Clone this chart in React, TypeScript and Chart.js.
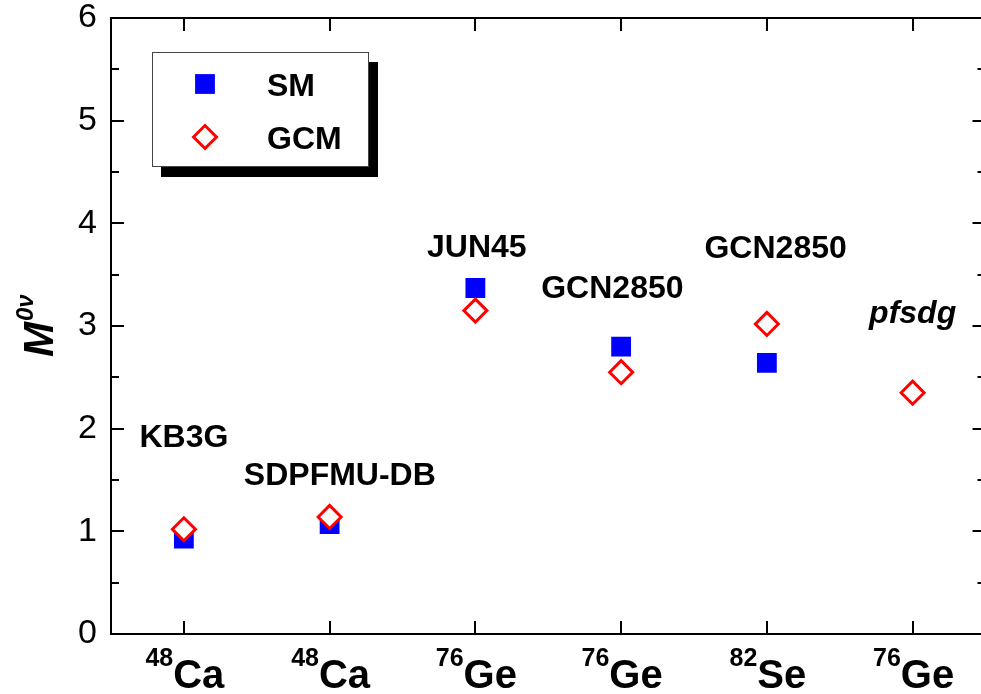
import React, { useEffect, useRef } from 'react';
import { Chart, registerables } from 'chart.js';
import { drawPoint } from 'chart.js/helpers';

Chart.register(...registerables);

// ---- data ----
const isotopeMass = ['48', '48', '76', '76', '82', '76'];
const isotopeSymbol = ['Ca', 'Ca', 'Ge', 'Ge', 'Se', 'Ge'];
const categories = isotopeMass.map((m, i) => m + isotopeSymbol[i]);
const smValues: (number | null)[] = [0.93, 1.07, 3.37, 2.8, 2.64, null];
const gcmValues: (number | null)[] = [1.02, 1.14, 3.15, 2.55, 3.02, 2.35];
const seriesNames = ['SM', 'GCM'];
const yTickValues = [0, 1, 2, 3, 4, 5, 6];

// interaction labels (anchored in data coordinates: category index, y value)
const interactionNames = ['KB3G', 'SDPFMU-DB', 'JUN45', 'GCN2850', 'GCN2850', 'pfsdg'];
const interactionAtX = [0.0, 1.07, 2.01, 2.94, 4.06, 5.0];
const interactionAtY = [1.82, 1.45, 3.67, 3.27, 3.66, 3.03];
const interactionItalic = [false, false, false, false, false, true];

const FONT = '"Liberation Sans", Arial, Helvetica, sans-serif';

const decorPlugin = {
  id: 'decor',
  afterDraw(chart: any) {
    const { ctx, chartArea: a } = chart;
    const x = chart.scales.x;
    const y = chart.scales.y;
    ctx.save();
    ctx.strokeStyle = '#000';
    ctx.lineWidth = 2;
    ctx.lineCap = 'butt';
    // top and right border
    ctx.beginPath();
    ctx.moveTo(a.left - 1, a.top);
    ctx.lineTo(a.right, a.top);
    ctx.lineTo(a.right, a.bottom + 1);
    ctx.stroke();
    // x ticks (bottom and top, inward)
    ctx.beginPath();
    categories.forEach((_, i) => {
      const px = Math.round(x.getPixelForValue(i));
      ctx.moveTo(px, a.bottom);
      ctx.lineTo(px, a.bottom - 13);
      ctx.moveTo(px, a.top);
      ctx.lineTo(px, a.top + 13);
    });
    // y ticks major + minor (left and right, inward)
    for (let k = 0; k < yTickValues.length; k++) {
      const v = yTickValues[k];
      const py = Math.round(y.getPixelForValue(v));
      ctx.moveTo(a.left, py);
      ctx.lineTo(a.left + 13, py);
      ctx.moveTo(a.right, py);
      ctx.lineTo(a.right - 13, py);
      if (k < yTickValues.length - 1) {
        const pm = Math.round(y.getPixelForValue((v + yTickValues[k + 1]) / 2));
        ctx.moveTo(a.left, pm);
        ctx.lineTo(a.left + 8, pm);
        ctx.moveTo(a.right, pm);
        ctx.lineTo(a.right - 8, pm);
      }
    }
    ctx.stroke();

    // x category labels with superscript mass numbers
    ctx.fillStyle = '#000';
    ctx.textBaseline = 'alphabetic';
    ctx.textAlign = 'left';
    categories.forEach((_, i) => {
      const px = x.getPixelForValue(i);
      ctx.font = `bold 25px ${FONT}`;
      const wm = ctx.measureText(isotopeMass[i]).width;
      ctx.font = `bold 40px ${FONT}`;
      const ws = ctx.measureText(isotopeSymbol[i]).width;
      const start = px - (wm + ws) / 2 + 1;
      ctx.font = `bold 25px ${FONT}`;
      ctx.fillText(isotopeMass[i], start, a.bottom + 32);
      ctx.font = `bold 40px ${FONT}`;
      ctx.fillText(isotopeSymbol[i], start + wm, a.bottom + 54);
    });

    // interaction labels
    ctx.textAlign = 'center';
    interactionNames.forEach((name, i) => {
      ctx.font = `${interactionItalic[i] ? 'italic ' : ''}bold 32px ${FONT}`;
      ctx.fillText(name, x.getPixelForValue(interactionAtX[i]), y.getPixelForValue(interactionAtY[i]));
    });

    // y axis title M^{0ν}
    ctx.save();
    ctx.translate(53, 357);
    ctx.rotate(-Math.PI / 2);
    ctx.textAlign = 'left';
    ctx.font = `italic bold 42px ${FONT}`;
    ctx.fillText('M', 0, 0);
    const wM = ctx.measureText('M').width;
    ctx.font = `italic bold 24px ${FONT}`;
    ctx.fillText('0\u03BD', wM + 1, -20);
    ctx.restore();

    // legend with drop shadow
    const lx = 152, ly = 52, lw = 217, lh = 115;
    ctx.fillStyle = '#000';
    ctx.fillRect(lx + 9, ly + 10, lw, lh);
    ctx.fillStyle = '#fff';
    ctx.fillRect(lx, ly, lw, lh);
    ctx.strokeStyle = '#444';
    ctx.lineWidth = 1;
    ctx.strokeRect(lx + 0.5, ly + 0.5, lw - 1, lh - 1);
    const ds0 = chart.data.datasets[0];
    const ds1 = chart.data.datasets[1];
    ctx.fillStyle = ds0.backgroundColor;
    ctx.strokeStyle = ds0.backgroundColor;
    ctx.lineWidth = 0;
    drawPoint(ctx, { pointStyle: 'rect', radius: ds0.pointRadius, borderWidth: 0 } as any, 205, 84);
    ctx.fillStyle = ds1.backgroundColor;
    ctx.strokeStyle = ds1.borderColor;
    ctx.lineWidth = ds1.borderWidth;
    drawPoint(ctx, { pointStyle: 'rectRot', radius: ds1.pointRadius, borderWidth: ds1.borderWidth } as any, 205, 137);
    ctx.fillStyle = '#000';
    ctx.font = `bold 32px ${FONT}`;
    ctx.textAlign = 'left';
    ctx.fillText(seriesNames[0], 267, 96);
    ctx.fillText(seriesNames[1], 267, 149);
    ctx.restore();
  },
};

export default function App() {
  const ref = useRef<HTMLCanvasElement>(null);
  useEffect(() => {
    const chart = new Chart(ref.current as HTMLCanvasElement, {
      type: 'line',
      data: {
        labels: categories,
        datasets: [
          {
            label: seriesNames[0],
            data: smValues,
            showLine: false,
            pointStyle: 'rect',
            pointRadius: 14,
            pointHoverRadius: 14,
            pointBorderWidth: 0,
            borderWidth: 0,
            backgroundColor: '#0000ff',
            pointBackgroundColor: '#0000ff',
            borderColor: '#0000ff',
            order: 1,
          } as any,
          {
            label: seriesNames[1],
            data: gcmValues,
            showLine: false,
            pointStyle: 'rectRot',
            pointRadius: 11.5,
            pointHoverRadius: 11.5,
            pointBorderWidth: 3,
            borderWidth: 3,
            backgroundColor: '#fbfbfb',
            pointBackgroundColor: '#fbfbfb',
            borderColor: '#ff0000',
            pointBorderColor: '#ff0000',
            order: 0,
          } as any,
        ],
      },
      options: {
        animation: false,
        responsive: false,
        devicePixelRatio: 1,
        events: [],
        layout: { padding: { top: 18, right: 7.5, left: 0, bottom: 0 } },
        plugins: { legend: { display: false }, tooltip: { enabled: false } },
        scales: {
          x: {
            type: 'category',
            offset: true,
            grid: { display: false, drawTicks: false },
            ticks: { display: false },
            border: { display: true, color: '#000', width: 2 },
            afterFit: (s: any) => {
              s.height = 60;
              s.paddingLeft = 0;
              s.paddingRight = 0;
            },
          },
          y: {
            min: 0,
            max: 6,
            ticks: {
              stepSize: 1,
              color: '#000',
              padding: 14,
              font: { family: FONT, size: 34 },
            },
            grid: { display: false, drawTicks: false },
            border: { display: true, color: '#000', width: 2 },
            afterFit: (s: any) => {
              s.width = 111;
              s.paddingTop = 0;
              s.paddingBottom = 0;
            },
          },
        },
      },
      plugins: [decorPlugin],
    } as any);
    return () => chart.destroy();
  }, []);
  return (
    <div
      style={{
        position: 'fixed',
        left: 0,
        top: 0,
        width: 981,
        height: 694,
        overflow: 'hidden',
        background: '#fff',
      }}
    >
      <canvas ref={ref} width={1000} height={694} style={{ display: 'block', width: 1000, height: 694 }} />
    </div>
  );
}
